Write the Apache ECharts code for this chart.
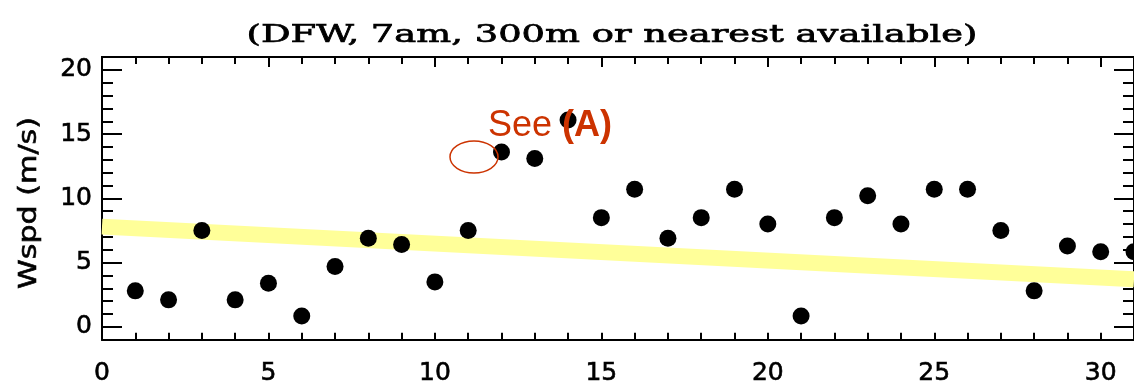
<!DOCTYPE html>
<html><head><meta charset="utf-8">
<script src="https://cdn.jsdelivr.net/npm/echarts@6/dist/echarts.min.js"></script>
<style>html,body{margin:0;padding:0;background:#fff}#c{width:1134px;height:386px}</style>
</head><body><div id="c"></div>
<script>
// ---- data ----
const titleText = '(DFW, 7am, 300m or nearest available)';
const yName = 'Wspd (m/s)';
const annotationPlain = 'See ';
const annotationBold = '(A)';
const days = [1,2,3,4,5,6,7,8,9,10,11,12,13,14,15,16,17,18,19,20,21,22,23,24,25,26,27,28,29,30,31];
const wspd = [2.8,2.1,7.5,2.1,3.4,0.85,4.7,6.9,6.4,3.5,7.5,13.6,13.1,16.1,8.5,10.7,6.9,8.5,10.7,8.0,0.85,8.5,10.2,8.0,10.7,10.7,7.5,2.8,6.3,5.85,5.85];
const trendDays = [0, 31];
const trendWspd = [7.8, 3.7];
const xTickLabels = [0,5,10,15,20,25,30];
const yTickLabels = [0,5,10,15,20];
const xMinorTicks = [1,2,3,4,5,6,7,8,9,10,11,12,13,14,15,16,17,18,19,20,21,22,23,24,25,26,27,28,29,30];
const yMinorTicks = [0,1,2,3,4,5,6,7,8,9,10,11,12,13,14,15,16,17,18,19,20];

function textWidth(str, font){
  const ctx = document.createElement('canvas').getContext('2d');
  ctx.font = font; return ctx.measureText(str).width;
}
const titleFont = '25px "DejaVu Serif"';
const titleScale = 731 / textWidth(titleText, titleFont);
const yNameFont = '25px "DejaVu Sans"';
const yNameScale = 172 / textWidth(yName, yNameFont);

const black = '#000';
const lineStyle = {color: black, width: 2};
const lblFont = {fontSize: 25, fontFamily: 'DejaVu Sans', color: black, textBorderColor: black, textBorderWidth: 0.6};

function xAx(pos, tickVals, len, label){
  return {type:'value', position:pos, min:0, max:31, splitLine:{show:false},
    axisLine:{show:true, onZero:false, lineStyle},
    axisTick:{show:true, inside:true, length:len, lineStyle, customValues:tickVals},
    axisLabel: label ? Object.assign({show:true, customValues:xTickLabels, margin:21}, lblFont) : {show:false}};
}
function yAx(pos, tickVals, len, label){
  return {type:'value', position:pos, min:-1, max:21, splitLine:{show:false},
    axisLine:{show:true, onZero:false, lineStyle},
    axisTick:{show:true, inside:true, length:len, lineStyle, customValues:tickVals},
    axisLabel: label ? Object.assign({show:true, customValues:yTickLabels, margin:10}, lblFont) : {show:false}};
}

const chart = echarts.init(document.getElementById('c'), null, {renderer:'canvas'});
chart.setOption({
  animation:false,
  backgroundColor:'#fff',
  grid:{left:102, top:57, width:1034, height:287, containLabel:false},
  xAxis:[
    xAx('bottom', xMinorTicks, 7, true),
    xAx('top', xMinorTicks, 7, false),
    xAx('top', xTickLabels, 10, false)
  ],
  yAxis:[
    yAx('left', yTickLabels, 20, true),
    yAx('left', yMinorTicks, 11, false),
    yAx('right', yTickLabels, 20, false),
    yAx('right', yMinorTicks, 11, false)
  ],
  series:[
    {type:'line', xAxisIndex:0, yAxisIndex:0, data: trendDays.map((d,i)=>[d, trendWspd[i]]),
      symbol:'none', showSymbol:false, silent:true, z:1,
      lineStyle:{color:'#ffff99', width:16, cap:'butt', opacity:1}},
    {type:'scatter', xAxisIndex:0, yAxisIndex:0, data: days.map((d,i)=>[d, wspd[i]]),
      symbol:'circle', symbolSize:17, itemStyle:{color:black, opacity:1}, z:3}
  ],
  graphic:[
    {type:'text', x:612, y:35, scaleX:titleScale, z:10,
      style:{text:titleText, font:titleFont, fill:black, stroke:black, lineWidth:0.7, align:'center', verticalAlign:'middle', textAlign:'center', textVerticalAlign:'middle'}},
    {type:'text', x:29, y:203, rotation:Math.PI/2, scaleX:yNameScale, z:10,
      style:{text:yName, font:yNameFont, fill:black, stroke:black, lineWidth:0.6, align:'center', verticalAlign:'middle', textAlign:'center', textVerticalAlign:'middle'}},
    {type:'text', x:488, y:126, z:20,
      style:{text:'{n|'+annotationPlain+'}{b|'+annotationBold+'}', align:'left', verticalAlign:'middle', textAlign:'left', textVerticalAlign:'middle',
        rich:{n:{fontSize:36, fontFamily:'Liberation Sans', fill:'#cc3300', color:'#cc3300'},
              b:{fontSize:36, fontFamily:'Liberation Sans', fontWeight:'bold', fill:'#cc3300', color:'#cc3300'}}}},
    {type:'ellipse', z:20, shape:{cx:474, cy:157, rx:24, ry:16},
      style:{fill:null, stroke:'#cc3300', lineWidth:1.5}}
  ]
});
</script></body></html>
